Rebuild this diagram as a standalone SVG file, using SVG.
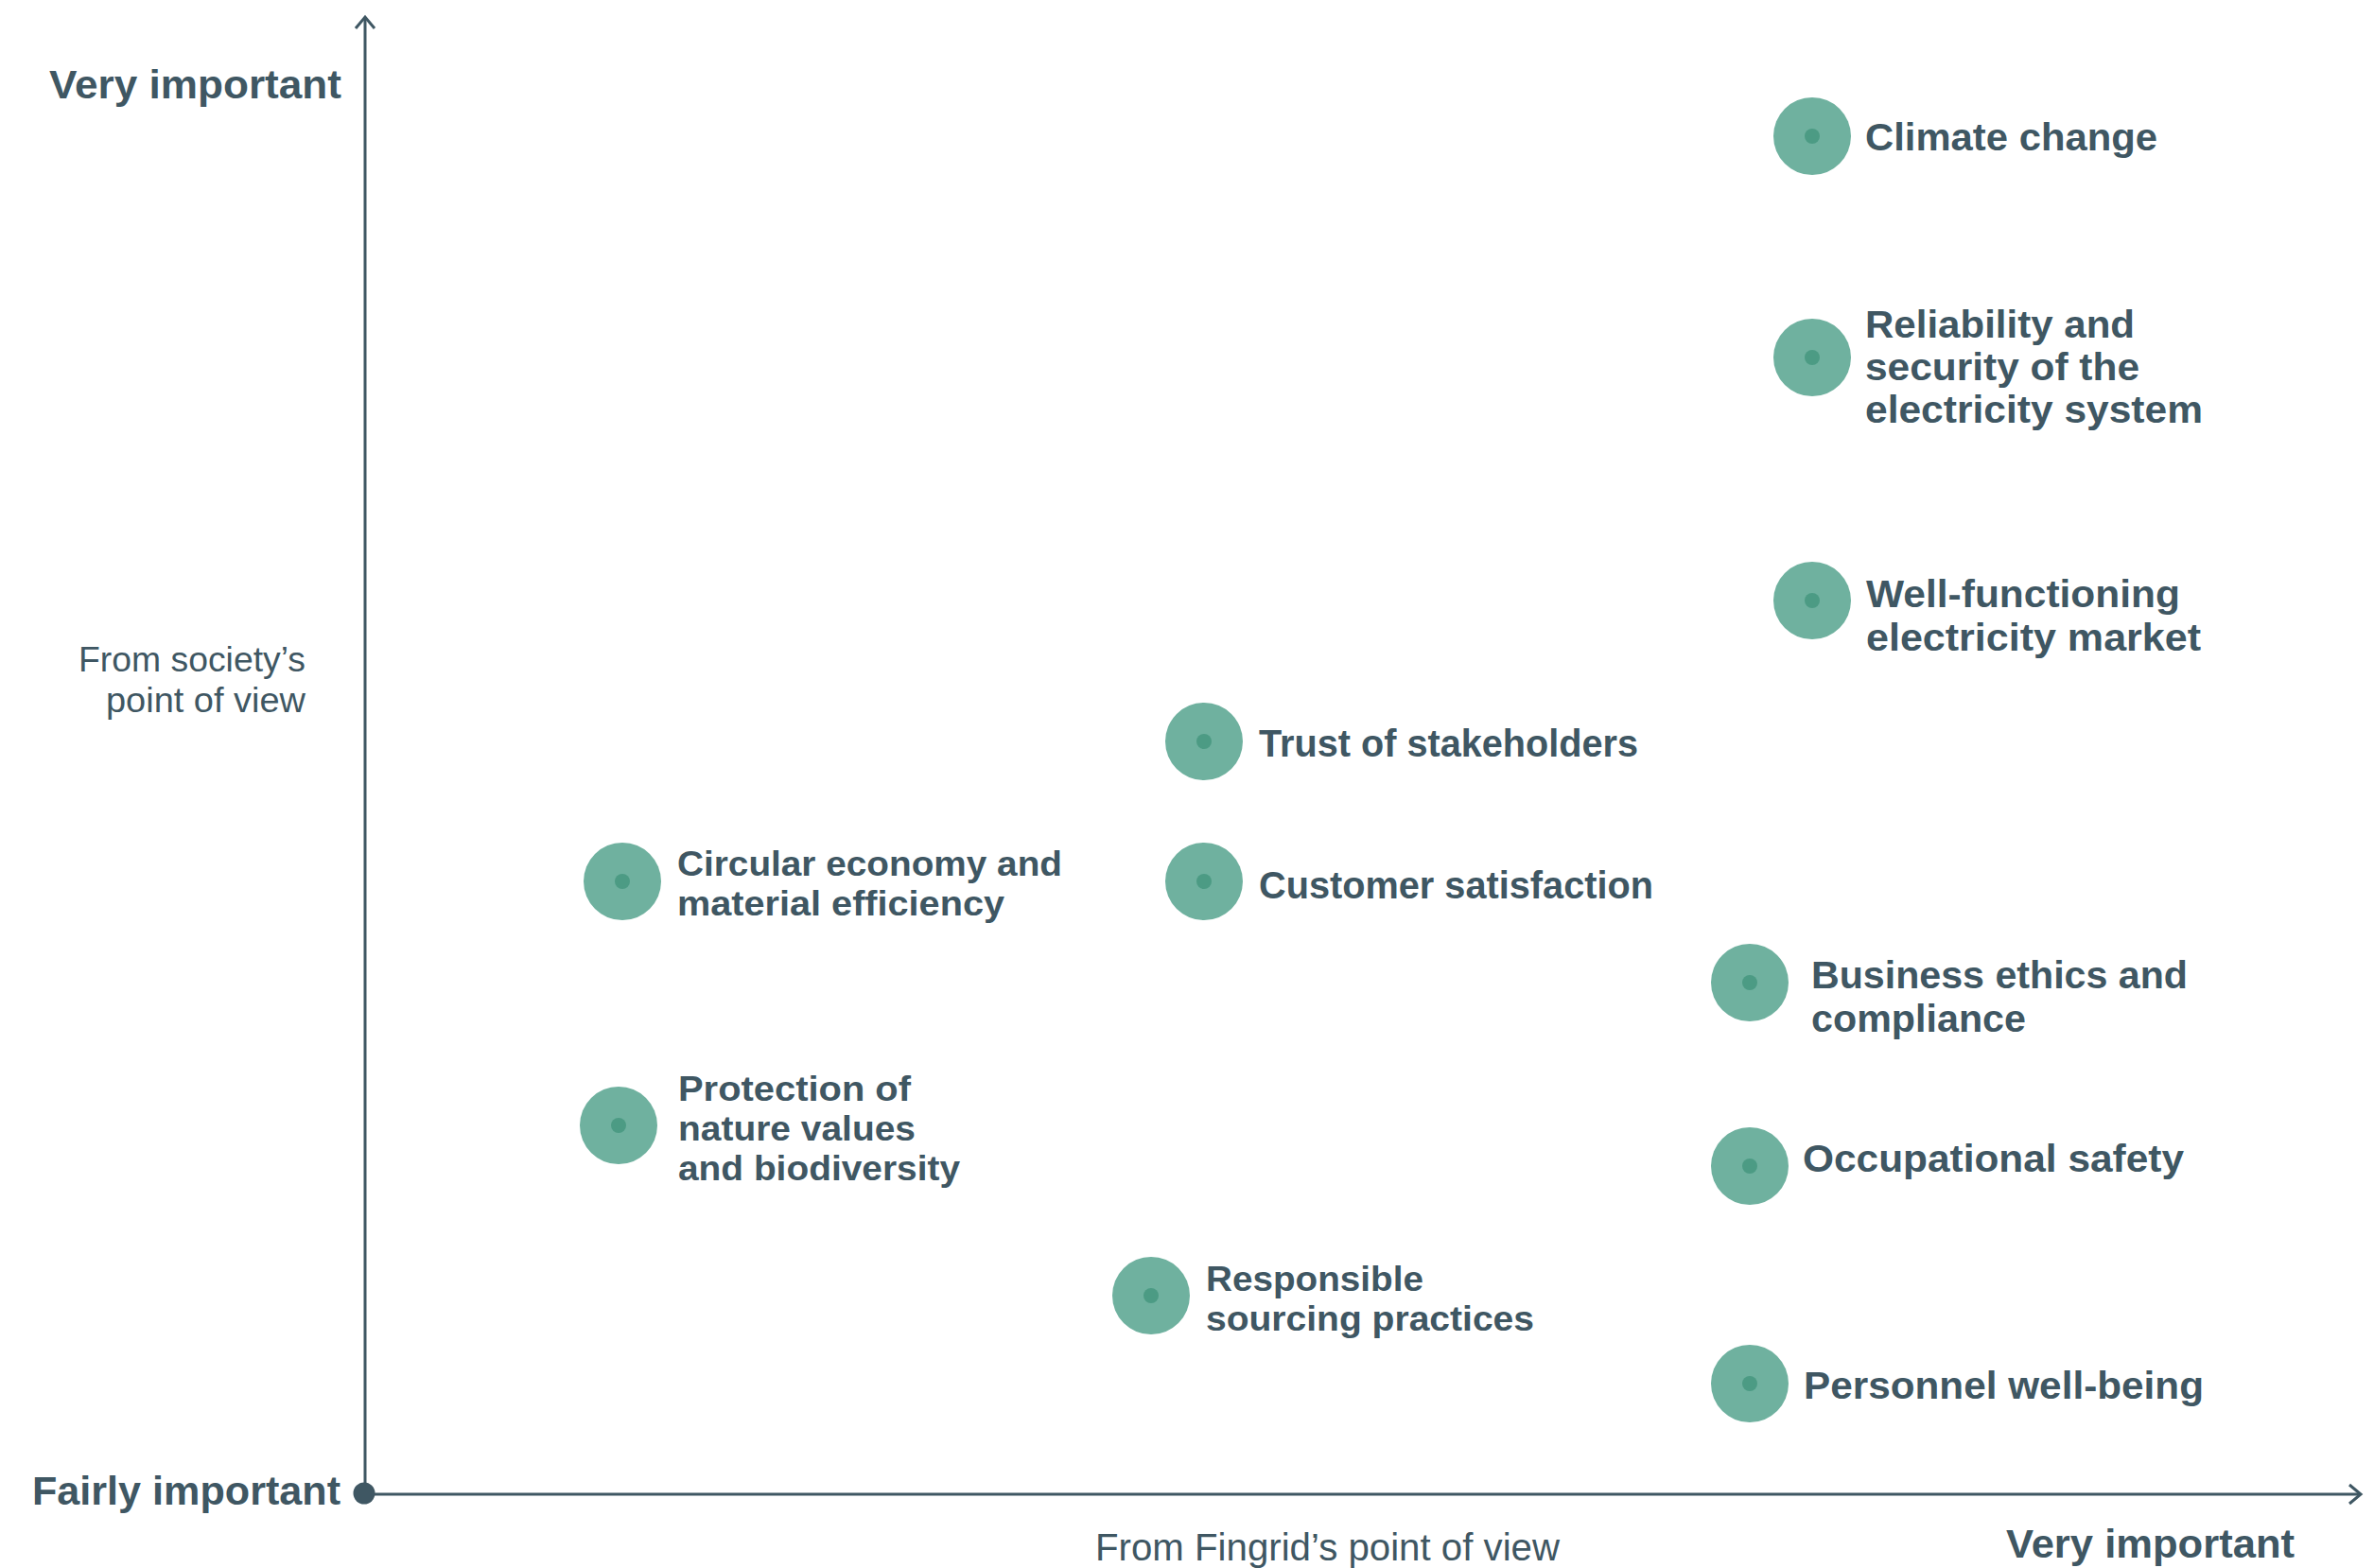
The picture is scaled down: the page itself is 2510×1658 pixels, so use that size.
<svg xmlns="http://www.w3.org/2000/svg" width="2510" height="1658" viewBox="0 0 2510 1658">
<style>
text{lengthAdjust:spacingAndGlyphs}
.lbl{font-family:"Liberation Sans",Arial,sans-serif;font-weight:bold;font-size:41px;fill:#3f5763}
.tight{font-size:37.5px}
.ax{font-family:"Liberation Sans",Arial,sans-serif;font-weight:bold;font-size:43px;fill:#3f5763}
.sub{font-family:"Liberation Sans",Arial,sans-serif;font-size:36px;fill:#3f5763}
.outer{fill:#6fb19f}
.inner{fill:#4c9b84}
.axis{stroke:#3f5763;stroke-width:3;fill:none}
</style>
<rect width="2510" height="1658" fill="#ffffff"/>
<g id="axes">
<line class="axis" x1="386" y1="1580" x2="386" y2="18"/>
<polyline class="axis" points="376,30 386,18 396,30"/>
<line class="axis" x1="386" y1="1580" x2="2496" y2="1580"/>
<polyline class="axis" points="2484,1570 2496,1580 2484,1590"/>
<circle cx="385" cy="1579" r="11.5" fill="#3f5763"/>
</g>
<g id="axis-labels">
<text class="ax" x="52" y="104" textLength="309" lengthAdjust="spacingAndGlyphs">Very important</text>
<text class="ax" x="34" y="1591" textLength="326" lengthAdjust="spacingAndGlyphs">Fairly important</text>
<text class="ax" x="2121" y="1647" textLength="305" lengthAdjust="spacingAndGlyphs">Very important</text>
<text class="sub" x="83" y="710" textLength="240" lengthAdjust="spacingAndGlyphs">From society’s</text>
<text class="sub" x="112" y="753" textLength="211" lengthAdjust="spacingAndGlyphs">point of view</text>
<text class="sub" x="1158" y="1650" style="font-size:40px" textLength="491" lengthAdjust="spacingAndGlyphs">From Fingrid’s point of view</text>
</g>
<g id="climate-change">
<circle class="outer" cx="1916" cy="144" r="41"/><circle class="inner" cx="1916" cy="144" r="8"/>
<text class="lbl" x="1972" y="159" textLength="309" lengthAdjust="spacingAndGlyphs">Climate change</text>
</g>
<g id="reliability">
<circle class="outer" cx="1916" cy="378" r="41"/><circle class="inner" cx="1916" cy="378" r="8"/>
<text class="lbl" x="1972" y="357" textLength="285" lengthAdjust="spacingAndGlyphs">Reliability and</text>
<text class="lbl" x="1972" y="402" textLength="290" lengthAdjust="spacingAndGlyphs">security of the</text>
<text class="lbl" x="1972" y="447" textLength="357" lengthAdjust="spacingAndGlyphs">electricity system</text>
</g>
<g id="well-functioning">
<circle class="outer" cx="1916" cy="635" r="41"/><circle class="inner" cx="1916" cy="635" r="8"/>
<text class="lbl" x="1973" y="642" textLength="332" lengthAdjust="spacingAndGlyphs">Well-functioning</text>
<text class="lbl" x="1973" y="688" textLength="354" lengthAdjust="spacingAndGlyphs">electricity market</text>
</g>
<g id="trust">
<circle class="outer" cx="1273" cy="784" r="41"/><circle class="inner" cx="1273" cy="784" r="8"/>
<text class="lbl" x="1331" y="800" textLength="401" lengthAdjust="spacingAndGlyphs">Trust of stakeholders</text>
</g>
<g id="customer">
<circle class="outer" cx="1273" cy="932" r="41"/><circle class="inner" cx="1273" cy="932" r="8"/>
<text class="lbl" x="1331" y="950" textLength="417" lengthAdjust="spacingAndGlyphs">Customer satisfaction</text>
</g>
<g id="circular">
<circle class="outer" cx="658" cy="932" r="41"/><circle class="inner" cx="658" cy="932" r="8"/>
<text class="lbl tight" x="716" y="926" textLength="407" lengthAdjust="spacingAndGlyphs">Circular economy and</text>
<text class="lbl tight" x="716" y="968" textLength="346" lengthAdjust="spacingAndGlyphs">material efficiency</text>
</g>
<g id="business-ethics">
<circle class="outer" cx="1850" cy="1039" r="41"/><circle class="inner" cx="1850" cy="1039" r="8"/>
<text class="lbl" x="1915" y="1045" textLength="398" lengthAdjust="spacingAndGlyphs">Business ethics and</text>
<text class="lbl" x="1915" y="1091" textLength="227" lengthAdjust="spacingAndGlyphs">compliance</text>
</g>
<g id="protection">
<circle class="outer" cx="654" cy="1190" r="41"/><circle class="inner" cx="654" cy="1190" r="8"/>
<text class="lbl tight" x="717" y="1164" textLength="246" lengthAdjust="spacingAndGlyphs">Protection of</text>
<text class="lbl tight" x="717" y="1206" textLength="251" lengthAdjust="spacingAndGlyphs">nature values</text>
<text class="lbl tight" x="717" y="1248" textLength="298" lengthAdjust="spacingAndGlyphs">and biodiversity</text>
</g>
<g id="occupational">
<circle class="outer" cx="1850" cy="1233" r="41"/><circle class="inner" cx="1850" cy="1233" r="8"/>
<text class="lbl" x="1906" y="1239" textLength="403" lengthAdjust="spacingAndGlyphs">Occupational safety</text>
</g>
<g id="responsible">
<circle class="outer" cx="1217" cy="1370" r="41"/><circle class="inner" cx="1217" cy="1370" r="8"/>
<text class="lbl tight" x="1275" y="1365" textLength="230" lengthAdjust="spacingAndGlyphs">Responsible</text>
<text class="lbl tight" x="1275" y="1407" textLength="347" lengthAdjust="spacingAndGlyphs">sourcing practices</text>
</g>
<g id="personnel">
<circle class="outer" cx="1850" cy="1463" r="41"/><circle class="inner" cx="1850" cy="1463" r="8"/>
<text class="lbl" x="1907" y="1479" textLength="423" lengthAdjust="spacingAndGlyphs">Personnel well-being</text>
</g>
</svg>
